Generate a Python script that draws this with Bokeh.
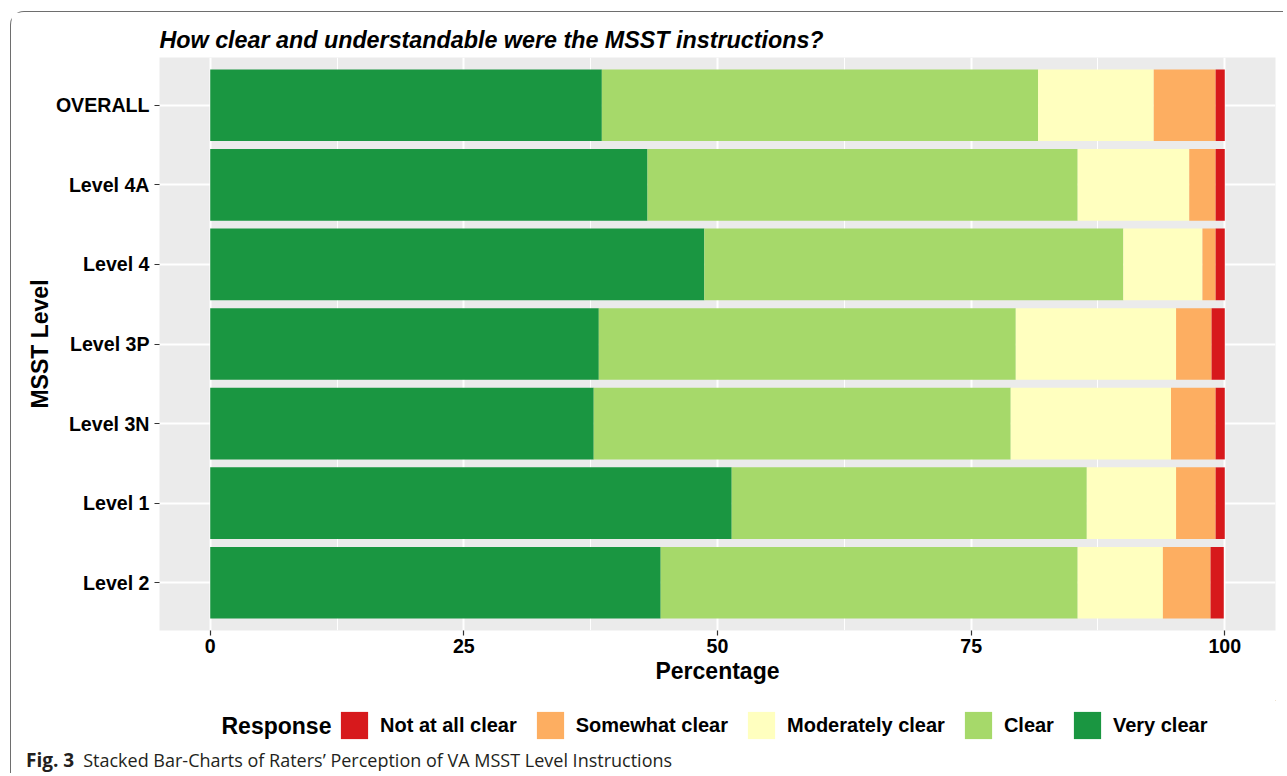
from bokeh.plotting import figure
from bokeh.layouts import column
from bokeh.models import (Range1d, FactorRange, FixedTicker, ColumnDataSource, Legend,
                          LegendItem, Label, Div)
from bokeh.embed import file_html
from bokeh.resources import INLINE

# ---- data (display order, top to bottom) ----
levels = ["OVERALL", "Level 4A", "Level 4", "Level 3P", "Level 3N", "Level 1", "Level 2"]
very_clear = [38.6, 43.1, 48.7, 38.3, 37.8, 51.4, 44.4]
clear = [43.0, 42.4, 41.3, 41.1, 41.1, 35.0, 41.1]
moderately_clear = [11.4, 11.0, 7.8, 15.8, 15.8, 8.8, 8.4]
somewhat_clear = [6.1, 2.6, 1.3, 3.5, 4.4, 3.9, 4.7]
not_at_all_clear = [0.9, 0.9, 0.9, 1.3, 0.9, 0.9, 1.3]

responses = ["Very clear", "Clear", "Moderately clear", "Somewhat clear", "Not at all clear"]
colors = ["#1A9641", "#A6D96A", "#FFFFBF", "#FDAE61", "#D7191C"]
x_ticks = [0, 25, 50, 75, 100]
x_minor = [12.5, 37.5, 62.5, 87.5]

title_text = "How clear and understandable were the MSST instructions?"
legend_title = "Response"
caption_bold = "Fig. 3"
caption_text = "Stacked Bar-Charts of Raters\u2019 Perception of VA MSST Level Instructions"

FONT = "Liberation Sans"
W = 1272

source = ColumnDataSource(dict(
    level=levels,
    vc=very_clear, c=clear, mc=moderately_clear, sc=somewhat_clear, nc=not_at_all_clear,
))
keys = ["vc", "c", "mc", "sc", "nc"]

p = figure(width=W, height=688, output_backend="svg", toolbar_location=None,
           x_range=Range1d(-5, 105),
           y_range=FactorRange(factors=list(reversed(levels)), range_padding=0.1,
                               range_padding_units="absolute"),
           min_border_left=148, min_border_right=8, min_border_top=45, min_border_bottom=70,
           background_fill_color="#EBEBEB", border_fill_color="white", outline_line_color=None)

p.hbar_stack(keys, y="level", height=0.9, source=source,
             fill_color=colors, line_color=None)

# title
p.title.text = title_text
p.title.text_font = FONT
p.title.text_font_size = "23.3px"
p.title.text_font_style = "bold italic"
p.title.text_color = "black"
p.title.align = "left"
p.title.standoff = 9

# axes
for ax in (p.xaxis[0], p.yaxis[0]):
    ax.axis_line_color = None
    ax.major_tick_in = 0
    ax.major_tick_out = 5
    ax.major_tick_line_color = "#333333"
    ax.major_tick_line_width = 1.2
    ax.minor_tick_line_color = None
    ax.major_label_text_font = FONT
    ax.major_label_text_font_size = "19.6px"
    ax.major_label_text_font_style = "bold"
    ax.major_label_text_color = "black"
    ax.axis_label_text_font = FONT
    ax.axis_label_text_font_size = "23px"
    ax.axis_label_text_font_style = "bold"
    ax.axis_label_text_color = "black"

p.xaxis.ticker = FixedTicker(ticks=x_ticks, minor_ticks=x_minor)
p.xaxis.major_label_standoff = 3
p.xaxis.axis_label = "Percentage"
p.xaxis.axis_label_standoff = 2
p.yaxis.major_label_standoff = 5
p.yaxis.axis_label = "MSST Level"
p.yaxis.axis_label_standoff = 0

# grid
p.xgrid.grid_line_color = "white"
p.xgrid.grid_line_width = 2
p.xgrid.minor_grid_line_color = "white"
p.xgrid.minor_grid_line_width = 1
p.ygrid.grid_line_color = "white"
p.ygrid.grid_line_width = 2

# ---- legend strip (its frame is aligned with the main frame) ----
q = figure(width=W, height=47, output_backend="svg", toolbar_location=None,
           x_range=Range1d(0, 1), y_range=Range1d(0, 1),
           x_axis_type=None, y_axis_type=None, min_border=0,
           outline_line_color=None, background_fill_color="white", border_fill_color="white")
q.xgrid.visible = False
q.ygrid.visible = False

# key glyphs: one bar each, placed outside the visible range (only their legend swatch shows)
key_renderers = [q.hbar(y=[10], left=[10], right=[11], height=0.9, fill_color=c, line_color=None)
                 for c in colors]
items = [LegendItem(label=responses[i], renderers=[key_renderers[i]]) for i in range(4, -1, -1)]
legend = Legend(items=items, orientation="horizontal", location=(178, 5),
                glyph_width=34, glyph_height=34, label_standoff=9, spacing=16,
                padding=0, margin=0, border_line_color=None, background_fill_alpha=0,
                label_text_font=FONT, label_text_font_size="20px",
                label_text_font_style="bold", label_text_color="black")
q.add_layout(legend, "center")

q.add_layout(Label(x=62, y=22, x_units="screen", y_units="screen", text=legend_title,
                   text_font=FONT, text_font_size="23px", text_font_style="bold",
                   text_color="black", text_baseline="middle"))

caption = Div(
    text=('<span style="font-weight:bold;font-size:19px;margin-right:9px">%s</span>%s'
          % (caption_bold, caption_text)),
    width=1200, height=26, margin=(0, 0, 0, 15),
    styles={"font-family": "'Open Sans'", "font-size": "18px", "color": "#231F20",
            "white-space": "nowrap"})

layout = column(p, q, caption, margin=(11, 0, 0, 10),
                styles={"border-top": "1.6px solid #6E6E6E",
                        "border-left": "1.6px solid #6E6E6E",
                        "border-top-left-radius": "14px"})

open("out.html", "w").write(file_html(layout, INLINE))
